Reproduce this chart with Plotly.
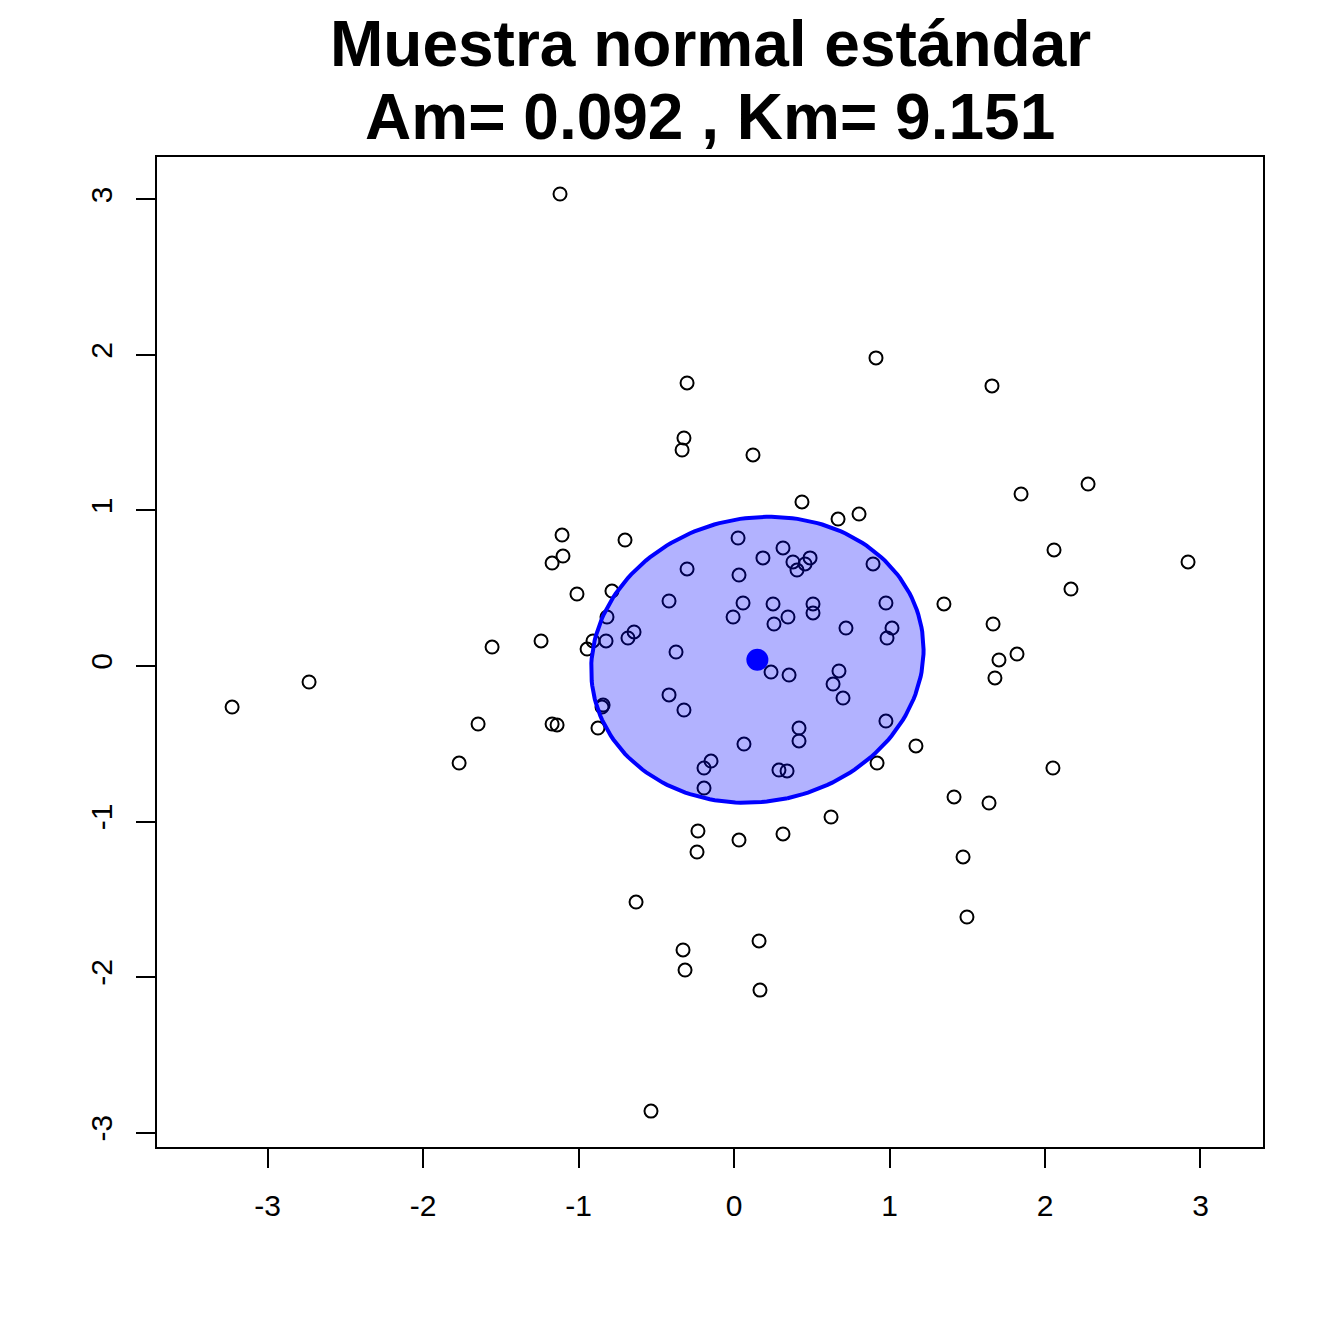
import numpy as np
import plotly.graph_objects as go

# ===== data =====
x_vals = [
    -1.119, 0.913, -0.302, 1.659, -0.322, -0.334, 0.122, 1.846, 2.277, 0.437,
    0.669, 0.804, -1.106, -1.100, -1.170, -0.701, 2.058, 2.920, 2.167, -1.010,
    -0.785, 1.350, 1.666, -1.556, -1.241, 1.820, 1.704, 1.678, -2.733, -3.228,
    -1.646, -1.170, -1.138, -0.875, -1.768, 1.170, 2.051, 1.415, 1.640, 0.624,
    -0.232, -0.238, 0.032, 0.315, 1.473, -0.630, 1.498, -0.328, -0.315, 0.161,
    0.167, -0.534, 0.026, 0.315, 0.186, -0.302, 0.032, 0.379, 0.489, 0.457,
    0.405, 0.894, -0.418, 0.058, 0.251, 0.508, 0.508, 0.347, -0.006, 0.257,
    0.977, 0.720, 1.016, 0.984, -0.817, -0.643, -0.682, -0.823, -0.907, -0.945,
    -0.373, 0.238, 0.354, 0.675, 0.637, 0.701, -0.418, -0.322, -0.842, -0.849,
    0.977, 0.418, 0.418, 0.064, -0.148, -0.193, -0.193, 0.289, 0.341, 0.920,
]
y_vals = [
    3.035, 1.981, 1.820, 1.801, 1.466, 1.389, 1.357, 1.106, 1.170, 1.055,
    0.945, 0.977, 0.842, 0.707, 0.662, 0.810, 0.746, 0.669, 0.495, 0.463,
    0.482, 0.399, 0.270, 0.122, 0.161, 0.077, 0.039, -0.077, -0.103, -0.264,
    -0.373, -0.373, -0.379, -0.399, -0.624, -0.514, -0.656, -0.842, -0.881, -0.971,
    -1.061, -1.196, -1.119, -1.080, -1.228, -1.518, -1.614, -1.826, -1.955, -1.768,
    -2.084, -2.862, 0.823, 0.759, 0.695, 0.624, 0.585, 0.669, 0.695, 0.656,
    0.617, 0.656, 0.418, 0.405, 0.399, 0.399, 0.341, 0.315, 0.315, 0.270,
    0.405, 0.244, 0.244, 0.180, 0.315, 0.219, 0.180, 0.161, 0.161, 0.109,
    0.090, -0.039, -0.058, -0.032, -0.116, -0.206, -0.186, -0.283, -0.251, -0.264,
    -0.354, -0.399, -0.482, -0.502, -0.611, -0.656, -0.785, -0.669, -0.675, -0.624,
]

title_line1 = "Muestra normal estándar"
title_line2 = "Am= 0.092 , Km= 9.151"
tick_vals = [-3, -2, -1, 0, 1, 2, 3]
tick_text = ["-3", "-2", "-1", "0", "1", "2", "3"]

# ellipse radius in Mahalanobis units
ellipse_radius = 1.0

# ===== derived =====
pts = np.column_stack([x_vals, y_vals])
center = pts.mean(axis=0)
cov = np.cov(pts, rowvar=False)
evals, evecs = np.linalg.eigh(cov)
t = np.linspace(0, 2 * np.pi, 200)
circle = np.vstack([np.cos(t), np.sin(t)])
ell = (evecs @ np.diag(np.sqrt(evals)) @ circle) * ellipse_radius
ell_x = center[0] + ell[0]
ell_y = center[1] + ell[1]

# ===== figure =====
fig = go.Figure()

# sample points (drawn first so the ellipse tints them)
fig.add_trace(
    go.Scatter(
        x=x_vals, y=y_vals,
        mode="markers",
        marker=dict(symbol="circle-open", size=13, color="black", line=dict(width=2)),
        showlegend=False,
        hoverinfo="skip",
    )
)

fig.add_trace(
    go.Scatter(
        x=list(ell_x), y=list(ell_y),
        mode="lines",
        line=dict(color="rgb(0,0,255)", width=4),
        fill="toself",
        fillcolor="rgba(0,0,255,0.3)",
        showlegend=False,
        hoverinfo="skip",
    )
)

fig.add_trace(
    go.Scatter(
        x=[center[0]], y=[center[1]],
        mode="markers",
        marker=dict(symbol="circle", size=22, color="rgb(0,0,255)"),
        showlegend=False,
        hoverinfo="skip",
    )
)

axis_common = dict(
    tickmode="array",
    tickvals=tick_vals,
    ticktext=tick_text,
    ticks="outside",
    ticklen=19,
    tickwidth=2,
    tickcolor="black",
    showline=True,
    linecolor="black",
    linewidth=2,
    mirror=True,
    showgrid=False,
    zeroline=False,
    tickfont=dict(family="Liberation Sans, Arial", size=30, color="black"),
)

# page body has an 8px margin, so shift the plot area up/left by 8px
fig.update_layout(
    width=1344,
    height=1344,
    autosize=False,
    margin=dict(l=149, r=89, t=149, b=205),
    plot_bgcolor="white",
    paper_bgcolor="white",
    xaxis=dict(range=[-3.711, 3.402], ticklabelstandoff=12, **axis_common),
    yaxis=dict(range=[-3.093, 3.273], tickangle=-90, ticklabelstandoff=12, **axis_common),
    annotations=[
        dict(text=f"<b>{title_line1}</b>", x=0.5, y=1.1142, xref="paper", yref="paper",
             xanchor="center", yanchor="middle", showarrow=False,
             font=dict(family="Liberation Sans, Arial", size=64, color="black")),
        dict(text=f"<b>{title_line2}</b>", x=0.5, y=1.0404, xref="paper", yref="paper",
             xanchor="center", yanchor="middle", showarrow=False,
             font=dict(family="Liberation Sans, Arial", size=64, color="black")),
    ],
)

fig.write_html("out.html")
